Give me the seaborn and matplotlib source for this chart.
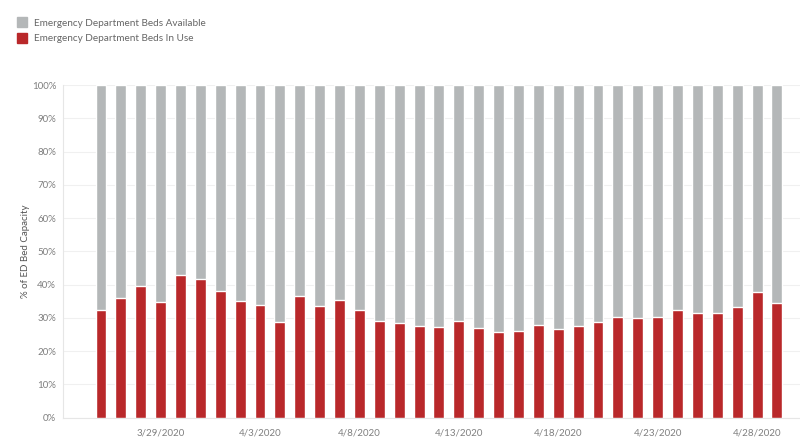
import pandas as pd
import seaborn as sns
import matplotlib.pyplot as plt
from matplotlib.patches import Patch
from matplotlib.ticker import PercentFormatter

# Data (percent of ED bed capacity in use)
dates = pd.date_range("2020-03-26", "2020-04-29", freq="D")
date_labels = [f"{d.month}/{d.day}/{d.year}" for d in dates]
in_use = [32.4, 35.9, 39.6, 34.8, 42.8, 41.7, 38.1, 35.1, 33.8, 28.8,
          36.6, 33.5, 35.3, 32.4, 29.0, 28.6, 27.7, 27.3, 29.2, 27.0,
          25.8, 26.0, 27.9, 26.8, 27.7, 28.8, 30.3, 30.1, 30.3, 32.3,
          31.6, 31.6, 33.3, 37.9, 34.6]
available = [100 - v for v in in_use]

RED = "#B9282A"
GREY = "#B4B7B8"
TXT = "#7f7f7f"

df = pd.DataFrame({"date": date_labels, "in_use": in_use, "available": available})
df["total"] = df["in_use"] + df["available"]

sns.set_style("white")
plt.rcParams["font.family"] = ["Lato", "DejaVu Sans"]

fig = plt.figure(figsize=(8, 4.47), dpi=100)
ax = fig.add_axes([63 / 800, 29.3 / 447, 737 / 800, 332.7 / 447])

sns.barplot(data=df, x="date", y="total", color=GREY, width=0.55,
            saturation=1, ax=ax, zorder=2)
sns.barplot(data=df, x="date", y="in_use", color=RED, width=0.55,
            saturation=1, ax=ax, zorder=3)

ax.set_ylim(0, 100)
ax.set_xlim(-1.91, len(df) - 1 + 1.16)
ax.set_yticks(range(0, 101, 10))
ax.yaxis.set_major_formatter(PercentFormatter(100, decimals=0))
ax.grid(axis="y", color="#f0f0f0", linewidth=0.8, zorder=0)
ax.set_axisbelow(True)

tick_pos = list(range(3, len(df), 5))
ax.set_xticks(tick_pos)
ax.set_xticklabels([date_labels[i] for i in tick_pos])
ax.tick_params(axis="both", labelsize=7, colors=TXT, length=0, pad=5)
ax.tick_params(axis="x", pad=8)

ax.set_xlabel("")
ax.set_ylabel("% of ED Bed Capacity", fontsize=7, color="#555555", labelpad=1)

for s in ["top", "right"]:
    ax.spines[s].set_visible(False)
for s in ["left", "bottom"]:
    ax.spines[s].set_color("#e6e6e6")
    ax.spines[s].set_linewidth(0.8)

handles = [Patch(color=GREY, label="Emergency Department Beds Available"),
           Patch(color=RED, label="Emergency Department Beds In Use")]
leg = fig.legend(handles=handles, loc="upper left", bbox_to_anchor=(0.016, 0.97),
                 frameon=False, fontsize=7.2, handlelength=1.0, handleheight=1.1,
                 handletextpad=0.7, labelspacing=0.55, borderaxespad=0)
for t in leg.get_texts():
    t.set_color("#666666")

fig.savefig("out.png", dpi=100)
